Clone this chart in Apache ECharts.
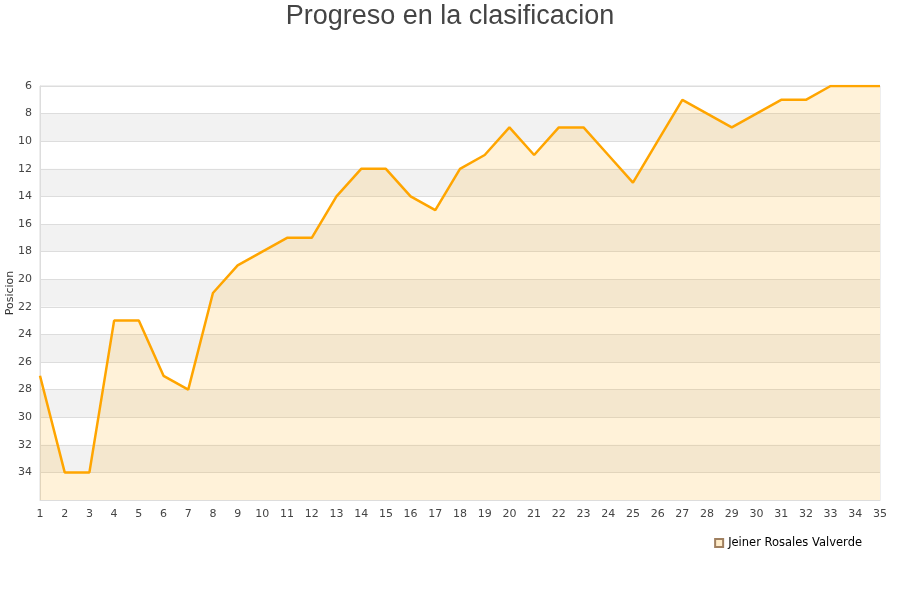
<!DOCTYPE html>
<html>
<head>
<meta charset="utf-8">
<script src="https://cdn.jsdelivr.net/npm/echarts@6/dist/echarts.min.js"></script>
<style>
html, body { margin: 0; padding: 0; background: #fff; }
#chart { width: 900px; height: 600px; }
</style>
</head>
<body>
<div id="chart"></div>
<script>
var jornadas = ['1','2','3','4','5','6','7','8','9','10','11','12','13','14','15','16','17','18',
	'19','20','21','22','23','24','25','26','27','28','29','30','31','32','33','34','35'];
var posiciones = [27, 34, 34, 23, 23, 27, 28, 21, 19, 18, 17, 17, 14, 12, 12, 14, 15, 12,
	11, 9, 11, 9, 9, 11, 13, 10, 7, 8, 9, 8, 7, 7, 6, 6, 6];
var jugador = 'Jeiner Rosales Valverde';

var chart = echarts.init(document.getElementById('chart'));
var option = {
	animation : false,
	title : {
		text : 'Progreso en la clasificacion',
		left : 'center',
		top : -2,
		textStyle : {
			fontFamily : 'Liberation Sans',
			fontSize : 27,
			fontWeight : 'normal',
			color : '#444'
		}
	},
	legend : {
		data : [ jugador ],
		right : 33,
		top : 532,
		itemWidth : 8,
		itemHeight : 8,
		itemGap : 6,
		icon : 'rect',
		textStyle : {
			fontFamily : 'DejaVu Sans',
			fontSize : 11.5,
			color : '#000'
		}
	},
	grid : {
		left : 40,
		right : 20,
		top : 86,
		bottom : 100,
		show : true,
		borderColor : '#ddd',
		borderWidth : 1,
		containLabel : false,
		outerBoundsMode : 'none'
	},
	xAxis : {
		type : 'category',
		data : jornadas,
		boundaryGap : false,
		axisLine : { lineStyle : { color : '#ddd' } },
		axisTick : { show : false },
		axisLabel : {
			fontFamily : 'DejaVu Sans',
			fontSize : 11,
			color : '#444',
			margin : 9,
			interval : 0
		}
	},
	yAxis : {
		type : 'value',
		inverse : true,
		min : 6,
		max : 36,
		interval : 2,
		name : 'Posicion',
		nameLocation : 'middle',
		nameGap : 24,
		nameMoveOverlap : false,
		nameTextStyle : {
			fontFamily : 'DejaVu Sans',
			fontSize : 11,
			color : '#333'
		},
		axisLine : { show : true, lineStyle : { color : '#ddd' } },
		axisTick : { show : false },
		axisLabel : {
			fontFamily : 'DejaVu Sans',
			fontSize : 11,
			color : '#444',
			margin : 8,
			formatter : function (v) { return v === 36 ? '' : v; }
		},
		splitLine : { lineStyle : { color : '#ddd' } },
		splitArea : { show : true, areaStyle : { color : [ '#ffffff', '#f2f2f2' ] } }
	},
	series : [ {
		name : jugador,
		type : 'line',
		data : posiciones,
		symbol : 'none',
		lineStyle : { color : '#ffa500', width : 2.5 },
		itemStyle : { color : '#ffecc9', borderColor : '#a08060', borderWidth : 1 },
		areaStyle : { color : 'rgba(255,165,0,0.21)', origin : 'end' }
	} ]
};
chart.setOption(option);
</script>
</body>
</html>
